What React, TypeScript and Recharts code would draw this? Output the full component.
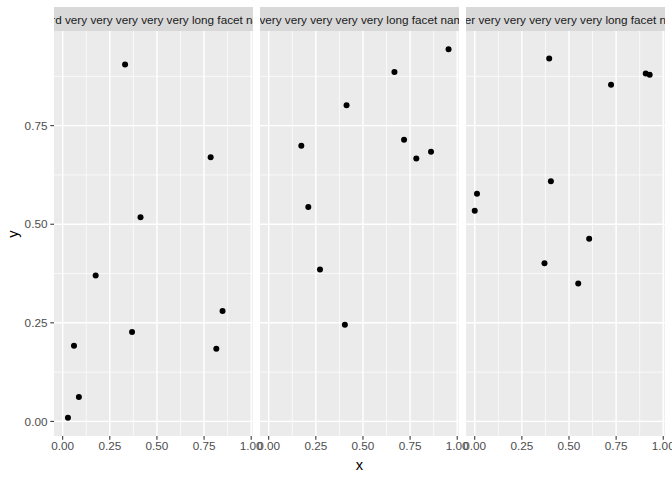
import React from 'react'
import { ScatterChart, Scatter, XAxis, YAxis, CartesianGrid, ReferenceLine } from 'recharts'

const FONT = '"Liberation Sans", Arial, Helvetica, sans-serif'

// facet strip labels (the ends are clipped by the panel width)
const facetLabels = [
  'Weird very very very very very long facet name',
  'A very very very very very long facet name',
  'Easier very very very very very long facet name',
]

const xTicks = [0, 0.25, 0.5, 0.75, 1]
const yTicks = [0, 0.25, 0.5, 0.75]
const xMinor = [0.125, 0.375, 0.625, 0.875]
const yMinor = [0.125, 0.375, 0.625, 0.875]

const panel1X = [0.028, 0.06, 0.086, 0.175, 0.331, 0.368, 0.413, 0.785, 0.815, 0.848]
const panel1Y = [0.009, 0.192, 0.062, 0.37, 0.905, 0.227, 0.518, 0.67, 0.184, 0.28]
const panel2X = [0.173, 0.21, 0.272, 0.413, 0.404, 0.667, 0.718, 0.783, 0.861, 0.954]
const panel2Y = [0.699, 0.544, 0.385, 0.802, 0.245, 0.886, 0.714, 0.667, 0.684, 0.944]
const panel3X = [0.0, 0.012, 0.37, 0.395, 0.404, 0.549, 0.607, 0.723, 0.907, 0.928]
const panel3Y = [0.534, 0.577, 0.401, 0.92, 0.609, 0.35, 0.463, 0.854, 0.882, 0.879]

const panelXs = [panel1X, panel2X, panel3X]
const panelYs = [panel1Y, panel2Y, panel3Y]

const W = 672
const H = 480
const PANEL_W = 198.7
const PANEL_GAP = 7.33
const PANEL_LEFT = 54
const PANEL_TOP = 31
const PANEL_BOTTOM = 436
const X_DOMAIN: [number, number] = [-0.046, 1.008]
const Y_DOMAIN: [number, number] = [-0.037, 0.99]

const tickStyle = { fill: '#4D4D4D', fontSize: 11.73, fontFamily: FONT }
const tickLineStyle = { stroke: '#333333', strokeWidth: 1.07 }

const Dot = (props: any) => <circle cx={props.cx} cy={props.cy} r={3} fill="#000000" />

function Panel({ index }: { index: number }) {
  const left = PANEL_LEFT + index * (PANEL_W + PANEL_GAP)
  const right = W - (left + PANEL_W)
  const data = panelXs[index].map((x, i) => ({ x, y: panelYs[index][i] }))
  const showY = index === 0
  return (
    <div style={{ position: 'absolute', left: 0, top: 0 }}>
      <ScatterChart
        width={W}
        height={H}
        margin={{ top: PANEL_TOP, bottom: H - PANEL_BOTTOM - 20, left: showY ? 0 : left, right }}
      >
        <CartesianGrid fill="#EBEBEB" horizontal={false} vertical={false} />
        {xMinor.map((v) => (
          <ReferenceLine key={'xm' + v} x={v} stroke="#FFFFFF" strokeWidth={0.71} />
        ))}
        {yMinor.map((v) => (
          <ReferenceLine key={'ym' + v} y={v} stroke="#FFFFFF" strokeWidth={0.71} />
        ))}
        {xTicks.map((v) => (
          <ReferenceLine key={'xM' + v} x={v} stroke="#FFFFFF" strokeWidth={1.42} />
        ))}
        {yTicks.map((v) => (
          <ReferenceLine key={'yM' + v} y={v} stroke="#FFFFFF" strokeWidth={1.42} />
        ))}
        <XAxis
          type="number"
          dataKey="x"
          domain={X_DOMAIN}
          ticks={xTicks}
          allowDataOverflow
          tickFormatter={(v: number) => v.toFixed(2)}
          axisLine={false}
          tickLine={tickLineStyle}
          tickSize={3.67}
          tickMargin={2.5}
          tick={tickStyle}
          interval={0}
          height={20}
        />
        <YAxis
          type="number"
          dataKey="y"
          domain={Y_DOMAIN}
          ticks={yTicks}
          allowDataOverflow
          hide={!showY}
          tickFormatter={(v: number) => v.toFixed(2)}
          axisLine={false}
          tickLine={tickLineStyle}
          tickSize={3.67}
          tickMargin={2.9}
          tick={tickStyle}
          interval={0}
          width={PANEL_LEFT}
        />
        <Scatter data={data} fill="#000000" shape={Dot} isAnimationActive={false} />
      </ScatterChart>
      <div
        style={{
          position: 'absolute',
          left,
          top: 7.33,
          width: PANEL_W,
          height: 23.4,
          background: '#D9D9D9',
          overflow: 'hidden',
          display: 'flex',
          alignItems: 'center',
          justifyContent: 'center',
          whiteSpace: 'nowrap',
          fontFamily: FONT,
          fontSize: 11.73,
          color: '#1A1A1A',
        }}
      >
        <span style={{ flexShrink: 0 }}>{facetLabels[index]}</span>
      </div>
    </div>
  )
}

export default function App() {
  return (
    <div style={{ position: 'absolute', left: 0, top: 0, width: W, height: H, background: '#FFFFFF', overflow: 'hidden' }}>
      {[0, 1, 2].map((i) => (
        <Panel key={i} index={i} />
      ))}
      <div
        style={{
          position: 'absolute',
          left: 0,
          width: PANEL_LEFT * 2 + 3 * PANEL_W + 2 * PANEL_GAP,
          top: 457,
          textAlign: 'center',
          fontFamily: FONT,
          fontSize: 14.67,
          color: '#000000',
          lineHeight: '16px',
        }}
      >
        x
      </div>
      <div
        style={{
          position: 'absolute',
          left: 13,
          top: (PANEL_TOP + PANEL_BOTTOM) / 2,
          transform: 'translate(-50%, -50%) rotate(-90deg)',
          fontFamily: FONT,
          fontSize: 14.67,
          color: '#000000',
          lineHeight: '16px',
        }}
      >
        y
      </div>
    </div>
  )
}
